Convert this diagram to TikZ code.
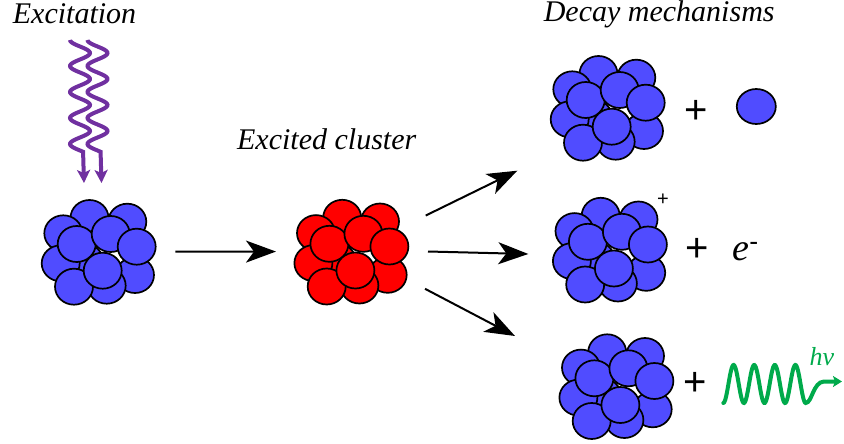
\documentclass[tikz,border=0pt]{standalone}
\usepackage{fontspec}
\setmainfont{Liberation Serif}
\setsansfont{Liberation Sans}
\usetikzlibrary{arrows.meta}
\usetikzlibrary{shapes.geometric}

\definecolor{atomblue}{RGB}{80,76,255}
\definecolor{atomred}{RGB}{255,0,0}
\definecolor{photonpurple}{RGB}{112,48,160}
\definecolor{photongreen}{RGB}{0,170,75}

\begin{document}
\begin{tikzpicture}[x=1pt, y=-1pt,
		atom/.style={draw=black, line width=1.7pt},
		holder/.style={shape=circle, minimum size=152pt, inner sep=0pt, outer sep=0pt},
		heading/.style={font=\itshape\fontsize{30}{36}\selectfont},
		plus/.style={font=\sffamily\fontsize{40}{44}\selectfont},
		react/.style={-{Stealth[length=30pt, width=22pt, inset=8pt]}, line width=2pt},
		photon/.style={line width=4pt, line cap=round},
		cluster/.pic={
			\foreach \dx/\dy in {-15/10, -9.8/-33.7, 28/-30, -36/-18.4, -38.6/11.6, 35.7/23.3,
					7.4/34, -22.6/-7.7, 11.4/-17.7, 37.4/-5, -25.3/35, 3.4/19}
				\draw[atom, fill=#1] (\dx,\dy) ellipse [x radius=19, y radius=18];
		}]
		
		\useasboundingbox (0,0) rectangle (844,444);
		
		% the clusters
		\node (ground) at (99.3,251.7) [holder] {};
		\node (excited) at (352,251.5) [holder] {};
		\node (frag) at (608.3,107.7) [holder] {};
		\node (ion) at (610.5,249.5) [holder] {};
		\node (cool) at (617,386) [holder] {};
		\pic at (ground) {cluster=atomblue};
		\pic at (excited) {cluster=atomred};
		\pic at (frag) {cluster=atomblue};
		\pic at (ion) {cluster=atomblue};
		\pic at (cool) {cluster=atomblue};
		
		\node (exc) at (74.5,23.5) [heading, anchor=base] {Excitation};
		\node (exclabel) at (326.7,149.3) [heading, anchor=base] {Excited cluster};
		\node (decay) at (659.2,22) [heading, anchor=base] {Decay mechanisms};
		
		% products
		\node (plus1) at (696.3,111.7) [plus] {+};
		\node (plus2) at (697,250) [plus] {+};
		\node (plus3) at (695,384) [plus] {+};
		\node (atom) at (756.3,106.5) [atom, fill=atomblue, shape=ellipse, minimum width=39pt, minimum height=35pt, inner sep=0pt] {};
		\node (charge) at (663,200) [font=\sffamily\fontsize{20}{22}\selectfont] {+};
		\node (electron) at (729,260) [anchor=base west, font=\itshape\fontsize{38}{40}\selectfont] {e\textsuperscript{\upshape\sffamily -}};
		\node (hv) at (806,365) [anchor=base west, text=photongreen, font=\itshape\fontsize{26}{28}\selectfont] {hv};
		
		% incoming photons
		\foreach \s in {0,17.5}
			\draw[photon, photonpurple, line cap=butt, -{Stealth[length=13pt, width=13pt, inset=3pt]}]
				plot[variable=\t, domain=0:4.3, samples=120] ({80+\s-10*cos(360*\t)}, {40+26*\t}) -- (84+\s,183);
		
		% emitted photon
		\draw[photon, photongreen, -{Stealth[length=9pt, width=11pt, inset=2pt]}]
			plot[variable=\t, domain=0:4, samples=120] ({723.3+20.6*\t}, {384+19*cos(360*\t)})
			.. controls (812,403) and (813,382) .. (824,381.5) -- (842,381.5);
		
		\coordinate (end1) at (517.3,170.7);
		\coordinate (end2) at (528.3,254);
		\coordinate (end3) at (515,336);
		
		\draw[react] (ground) -- (excited);
		\draw[react, shorten <=6pt] (excited.26) -- (end1);
		\draw[react] (excited.east) -- (end2);
		\draw[react, shorten <=6pt] (excited.-27) -- (end3);
	\end{tikzpicture}
\end{document}
